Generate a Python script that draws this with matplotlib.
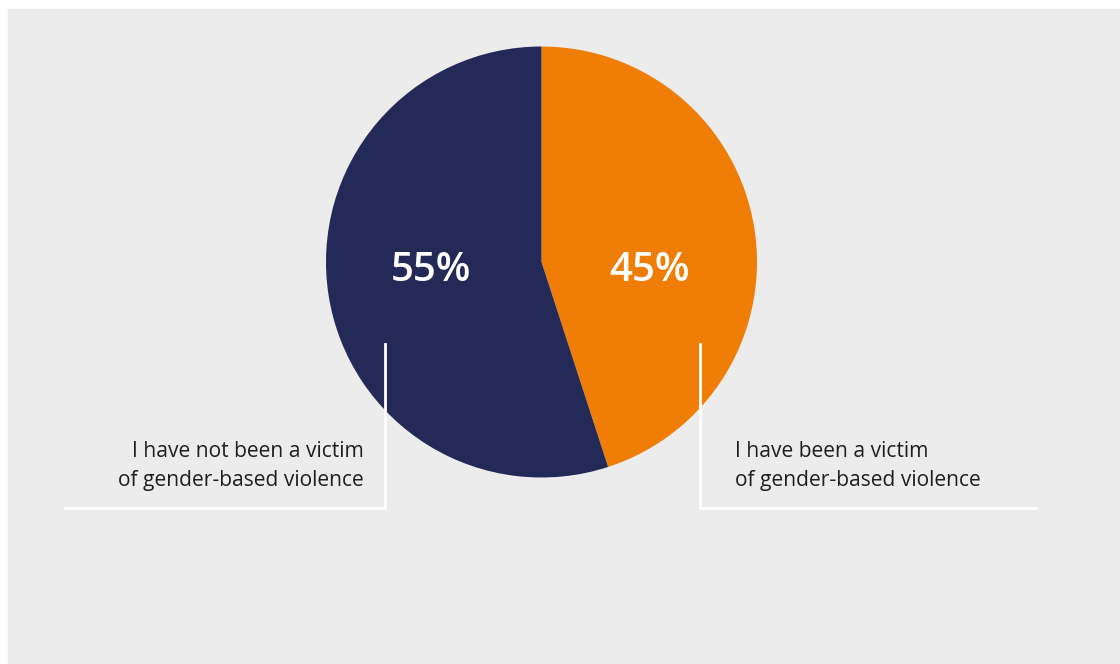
import matplotlib.pyplot as plt
from matplotlib.patches import Rectangle

# share of respondents
labels = ["I have been a victim\nof gender-based violence",
          "I have not been a victim\nof gender-based violence"]
shares = [45, 55]
pct_text = ["45%", "55%"]
colors = ["#f07d05", "#232a58"]

W, H = 1120, 664
fig = plt.figure(figsize=(W / 100, H / 100), dpi=100)
ax = fig.add_axes([0, 0, 1, 1])
ax.set_xlim(0, W)
ax.set_ylim(0, H)
ax.set_aspect("equal")
ax.axis("off")

# grey panel
ax.add_patch(Rectangle((8, 0), W - 8, H - 9, color="#ececec", zorder=0))

cx, cy, r = 541.5, H - 262, 215.5
ax.pie(shares, colors=colors, startangle=90, counterclock=False,
       center=(cx, cy), radius=r, wedgeprops=dict(linewidth=0), frame=True)
ax.set_xlim(0, W)
ax.set_ylim(0, H)
ax.axis("off")

font = "Open Sans"
# percentages
ax.text(650, H - 271, pct_text[0], color="white", fontsize=29, fontweight="semibold",
        ha="center", va="center", family=font)
ax.text(431, H - 271, pct_text[1], color="white", fontsize=29, fontweight="semibold",
        ha="center", va="center", family=font)

# leader lines
ax.plot([385, 385, 65], [H - 344, H - 508, H - 508], color="white", lw=2, zorder=5)
ax.plot([700, 700, 1036], [H - 344, H - 508, H - 508], color="white", lw=2, zorder=5)

ax.text(364, H - 466, labels[1], ha="right", va="center", fontsize=15.1,
        color="#1f1f1f", family=font, linespacing=1.5)
ax.text(735, H - 466, labels[0], ha="left", va="center", fontsize=15.1,
        color="#1f1f1f", family=font, linespacing=1.5)

fig.savefig("out.png", dpi=100, facecolor="white")
